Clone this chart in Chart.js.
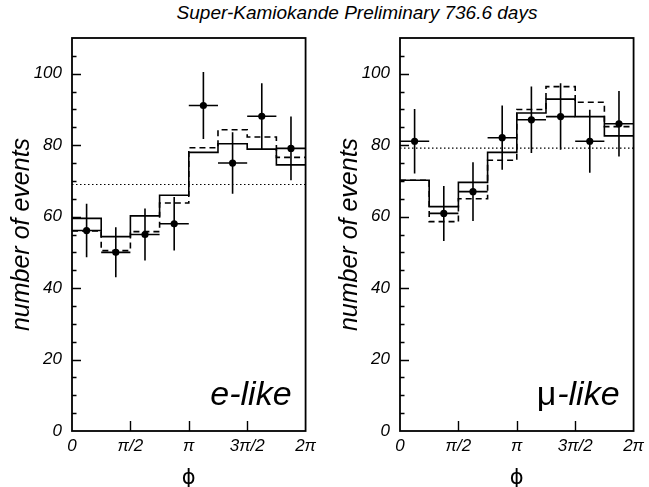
<!DOCTYPE html>
<html>
<head>
<meta charset="utf-8">
<script src="https://cdn.jsdelivr.net/npm/chart.js@4.4.1/dist/chart.umd.min.js"></script>
<style>
  body { margin: 0; background: #fff; width: 649px; height: 487px; position: relative; overflow: hidden; }
  canvas { position: absolute; top: 0; }
  #c1 { left: 0; }
  #c2 { left: 328px; }
  #title { position: absolute; top: 3px; left: 65px; width: 584px; text-align: center;
           font: italic 19px 'Liberation Sans', Arial, Helvetica, sans-serif; line-height: 20px; color: #000; }
</style>
</head>
<body>
<div id="title">Super-Kamiokande Preliminary 736.6 days</div>
<canvas id="c1" width="321" height="487"></canvas>
<canvas id="c2" width="321" height="487"></canvas>
<script>
// phi in units of pi
const binEdges = [0, 0.25, 0.5, 0.75, 1, 1.25, 1.5, 1.75, 2];
const binCenters = [0.125, 0.375, 0.625, 0.875, 1.125, 1.375, 1.625, 1.875];
const phiTicks = [0, 0.5, 1, 1.5, 2];
const phiTickLabels = ['0', 'π/2', 'π', '3π/2', '2π'];
const yTicks = [0, 20, 40, 60, 80, 100];

// e-like
const eData = [56.1, 50.0, 55.0, 58.0, 91.1, 75.0, 88.1, 79.1];
const eErr = [7.5, 7.0, 7.3, 7.5, 9.4, 8.6, 9.2, 8.9];
const eSolid = [59.5, 54.4, 60.2, 66.0, 78.0, 80.4, 78.9, 74.5];
const eDashed = [56.0, 50.5, 55.8, 63.8, 79.3, 84.3, 82.3, 76.6];
const eFlat = 69.0;

// mu-like
const muData = [81.1, 60.9, 67.0, 82.1, 87.1, 88.0, 81.1, 86.0];
const muErr = [9.0, 7.7, 8.2, 9.0, 9.3, 9.3, 8.8, 9.2];
const muSolid = [70.2, 62.8, 69.6, 78.0, 89.0, 92.9, 88.0, 82.6];
const muDashed = [70.2, 58.6, 65.0, 75.8, 90.0, 96.4, 92.0, 85.2];
const muFlat = 79.2;

const FONT = "'Liberation Sans', Arial, Helvetica, sans-serif";
const halfBin = 0.125;

function stepPoints(vals) {
  return binEdges.map((x, i) => ({ x: x, y: vals[Math.max(i - 1, 0)] }));
}

const panelPlugin = {
  id: 'panel',
  afterDatasetsDraw(chart, args, opts) {
    const ctx = chart.ctx;
    const xs = chart.scales.x, ys = chart.scales.y;
    const a = chart.chartArea;
    ctx.save();
    ctx.strokeStyle = '#000';
    ctx.lineCap = 'butt';

    // error bars
    chart.data.datasets.forEach(ds => {
      if (!ds.yErr) return;
      ctx.lineWidth = 1.6;
      ds.data.forEach((p, i) => {
        const px = xs.getPixelForValue(p.x);
        const py = ys.getPixelForValue(p.y);
        ctx.beginPath();
        ctx.moveTo(px, ys.getPixelForValue(p.y + ds.yErr[i]));
        ctx.lineTo(px, ys.getPixelForValue(p.y - ds.yErr[i]));
        ctx.moveTo(xs.getPixelForValue(p.x - halfBin), py);
        ctx.lineTo(xs.getPixelForValue(p.x + halfBin), py);
        ctx.stroke();
      });
    });

    // frame
    ctx.lineWidth = 1.8;
    ctx.strokeRect(a.left, a.top, a.right - a.left, a.bottom - a.top);

    // inward ticks
    ctx.lineWidth = 1.4;
    ctx.beginPath();
    for (let v = 5; v < 110; v += 5) {
      const py = Math.round(ys.getPixelForValue(v)) + 0.5;
      const len = v % 20 === 0 ? 9 : 4.5;
      ctx.moveTo(a.left, py);
      ctx.lineTo(a.left + len, py);
    }
    phiTicks.slice(1, -1).forEach(v => {
      const px = Math.round(xs.getPixelForValue(v)) + 0.5;
      ctx.moveTo(px, a.bottom);
      ctx.lineTo(px, a.bottom - 10);
    });
    ctx.stroke();

    // panel label
    ctx.fillStyle = '#000';
    ctx.textBaseline = 'alphabetic';
    ctx.textAlign = 'right';
    ctx.font = 'italic 34px ' + FONT;
    const rx = a.right - 14, by = a.bottom - 26;
    ctx.fillText(opts.label, rx, by);
    if (opts.prefix) {
      const w = ctx.measureText(opts.label).width;
      ctx.font = '34px ' + FONT;
      ctx.fillText(opts.prefix, rx - w - 1, by);
    }
    ctx.restore();
  }
};

function makePanel(id, vals, errs, solid, dashed, flat, label, prefix) {
  return new Chart(document.getElementById(id), {
    type: 'scatter',
    data: {
      datasets: [
        { data: stepPoints(solid), showLine: true, stepped: 'after', borderColor: '#000', borderWidth: 1.6, pointRadius: 0, fill: false },
        { data: stepPoints(dashed), showLine: true, stepped: 'after', borderColor: '#000', borderWidth: 1.6, borderDash: [6, 4], pointRadius: 0, fill: false },
        { data: [{ x: 0, y: flat }, { x: 2, y: flat }], showLine: true, borderColor: '#000', borderWidth: 1.2, borderDash: [1.5, 2.5], pointRadius: 0, fill: false },
        { data: binCenters.map((x, i) => ({ x: x, y: vals[i] })), yErr: errs, pointRadius: 3.6, pointBackgroundColor: '#000', pointBorderColor: '#000', pointBorderWidth: 0 }
      ]
    },
    options: {
      responsive: false,
      animation: false,
      events: [],
      layout: { padding: { top: 38, right: 10, left: 0, bottom: 0 } },
      plugins: { legend: { display: false }, tooltip: { enabled: false }, panel: { label: label, prefix: prefix } },
      scales: {
        x: {
          type: 'linear', min: 0, max: 2,
          afterBuildTicks: s => { s.ticks = phiTicks.map(v => ({ value: v })); },
          afterFit: s => { s.height = 56; },
          grid: { display: false, drawTicks: false },
          border: { display: false },
          ticks: {
            maxRotation: 0, autoSkip: false, padding: 5, color: '#000',
            font: { family: FONT, size: 17, style: 'italic' },
            callback: v => phiTickLabels[phiTicks.indexOf(v)]
          },
          title: { display: true, text: 'ϕ', color: '#000', padding: { top: 0, bottom: 0 },
                   font: { family: "'DejaVu Sans', sans-serif", size: 21, lineHeight: 0.8 } }
        },
        y: {
          min: 0, max: 110,
          afterBuildTicks: s => { s.ticks = yTicks.map(v => ({ value: v })); },
          afterFit: s => { s.width = 72; },
          grid: { display: false, drawTicks: false },
          border: { display: false },
          ticks: { padding: 10, color: '#000', font: { family: FONT, size: 17, style: 'italic' } },
          title: { display: true, text: 'number of events', color: '#000', padding: { top: 7, bottom: 0 },
                   font: { family: FONT, size: 25, style: 'italic', lineHeight: 1.2 } }
        }
      }
    },
    plugins: [panelPlugin]
  });
}

makePanel('c1', eData, eErr, eSolid, eDashed, eFlat, 'e-like', '');
makePanel('c2', muData, muErr, muSolid, muDashed, muFlat, '-like', 'μ');
</script>
</body>
</html>
